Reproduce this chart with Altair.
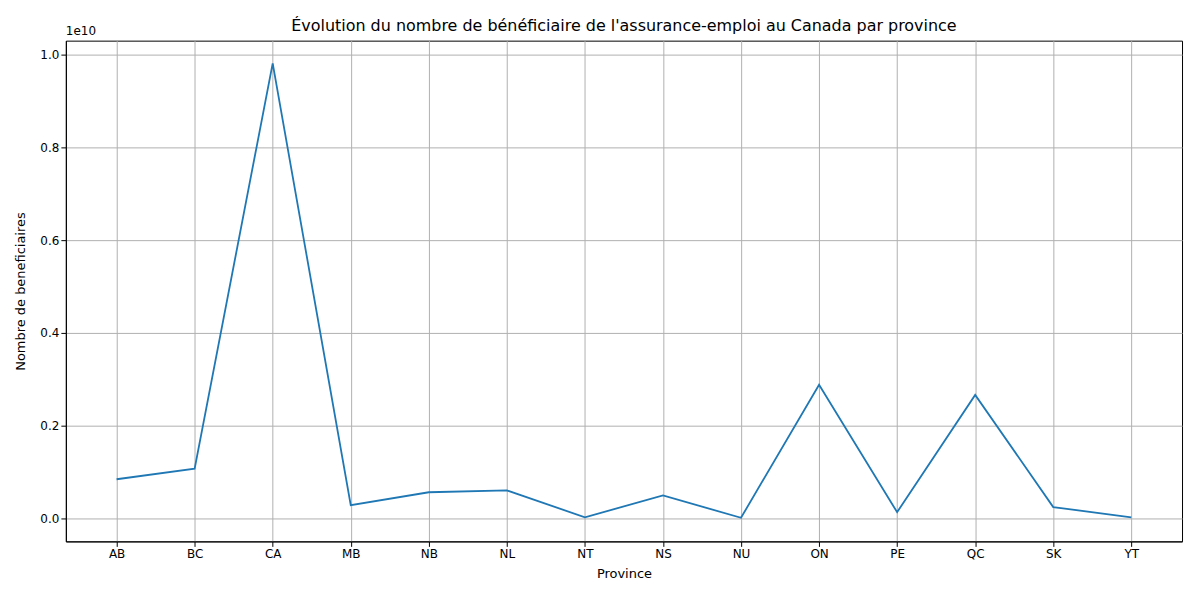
import pandas as pd
import altair as alt

provinces = ["AB", "BC", "CA", "MB", "NB", "NL", "NT", "NS", "NU", "ON", "PE", "QC", "SK", "YT"]
beneficiaires = [0.084, 0.107, 0.981, 0.028, 0.056, 0.060, 0.002, 0.049, 0.001, 0.288, 0.013, 0.266, 0.024, 0.002]  # x 1e10

df = pd.DataFrame({"Province": provinces, "val": beneficiaires})

font = "DejaVu Sans"

line = alt.Chart(df).mark_line(color="#1f77b4", strokeWidth=1.8).encode(
    x=alt.X("Province:N", sort=provinces, scale=alt.Scale(type="point", padding=0.65),
            axis=alt.Axis(labelAngle=0, grid=True, gridColor="#b0b0b0", tickColor="black",
                          domainColor="black", labelColor="black", labelFontSize=12,
                          titleFontSize=13, titleFontWeight="normal", titleColor="black",
                          labelFont=font, titleFont=font, titlePadding=8)),
    y=alt.Y("val:Q", scale=alt.Scale(domain=[-0.05, 1.03], nice=False, zero=False),
            title="Nombre de beneficiaires",
            axis=alt.Axis(values=[0, 0.2, 0.4, 0.6, 0.8, 1.0], format=".1f", grid=True,
                          gridColor="#b0b0b0", tickColor="black", domainColor="black",
                          labelColor="black", labelFontSize=12, titleFontSize=13,
                          titleFontWeight="normal", titleColor="black",
                          labelFont=font, titleFont=font, titlePadding=12)),
)

exp = alt.Chart(pd.DataFrame({"t": ["1e10"]})).mark_text(
    align="left", baseline="bottom", font=font, fontSize=12, color="black"
).encode(x=alt.value(0), y=alt.value(-3), text="t:N")

chart = alt.layer(line, exp).properties(
    width=1119, height=502,
    title=alt.TitleParams("Évolution du nombre de bénéficiaire de l'assurance-emploi au Canada par province",
                          font=font, fontSize=16, fontWeight="normal", color="black", offset=-9),
    autosize=alt.AutoSizeParams(type="none"),
    padding={"left": 58, "top": 32, "right": 10, "bottom": 50},
).configure_view(stroke="black", strokeWidth=1)

chart.save("out.html", embed_options={"renderer": "svg", "actions": False})
